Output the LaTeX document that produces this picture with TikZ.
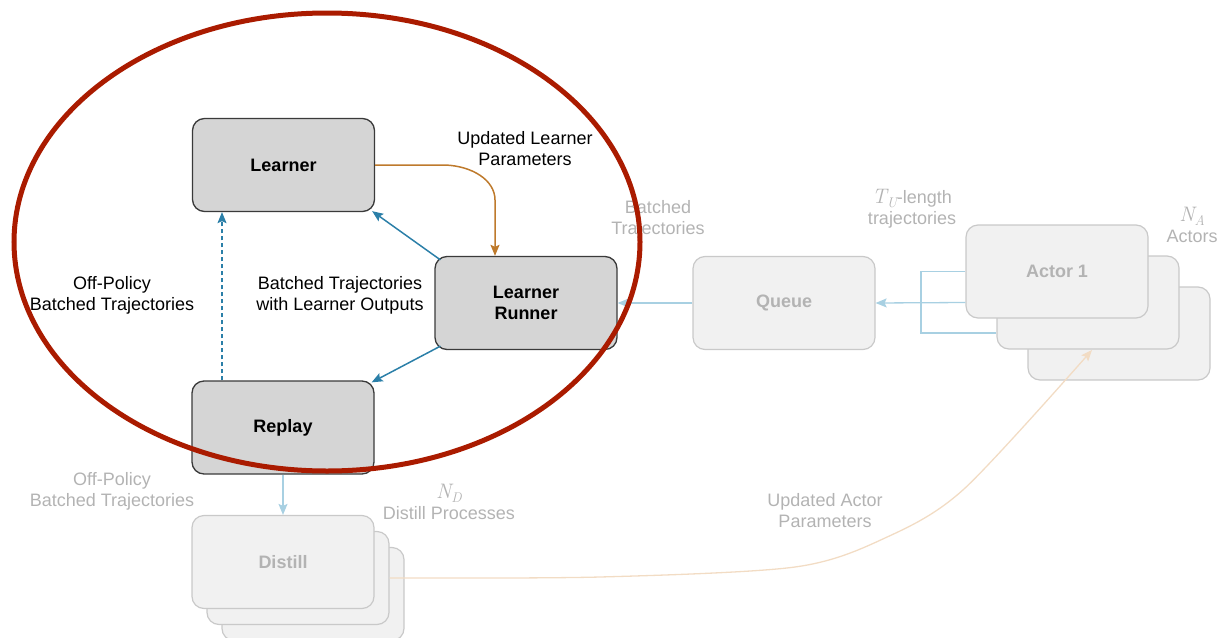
\documentclass[tikz,border=0pt]{standalone}
\usepackage{fontspec}
\setmainfont{Liberation Sans}
\newfontfamily\lmrom{Latin Modern Roman}
\newcommand{\mvar}[2]{{\fontsize{21}{21}\selectfont\lmrom\itshape #1}\raisebox{-4pt}{\fontsize{14}{14}\selectfont\lmrom\itshape #2}}
\usetikzlibrary{arrows.meta,calc}
\definecolor{boxfill}{HTML}{D5D5D5}
\definecolor{boxline}{HTML}{3A3A3A}
\definecolor{ffill}{HTML}{F1F1F1}
\definecolor{fline}{HTML}{C9C9C9}
\definecolor{ftext}{HTML}{B3B3B3}
\definecolor{blueA}{HTML}{2B7FA8}
\definecolor{blueL}{HTML}{A8D0E2}
\definecolor{orangeA}{HTML}{BE7A2C}
\definecolor{orangeL}{HTML}{F2DCC4}
\definecolor{redE}{HTML}{AA1B00}
\tikzset{
  mainbox/.style={draw=boxline, fill=boxfill, line width=1.3pt, rounded corners=12pt,
    minimum width=182pt, minimum height=93pt, inner sep=0pt, align=center,
    font=\fontsize{18}{21}\selectfont\bfseries},
  fadebox/.style={draw=fline, fill=ffill, line width=1.2pt, rounded corners=12pt,
    minimum width=182pt, minimum height=93pt, inner sep=0pt, align=center,
    text=ftext, font=\fontsize{18}{21}\selectfont\bfseries},
  lbl/.style={align=center, inner sep=0pt, font=\fontsize{18}{21}\selectfont},
  flbl/.style={lbl, text=ftext},
  tip/.style={-{Stealth[length=11pt,width=9pt,inset=2pt]}},
  bluearrow/.style={tip, draw=blueA, line width=1.5pt},
  lightarrow/.style={tip, draw=blueL, line width=1.3pt},
  lightline/.style={draw=blueL, line width=1.3pt},
  orangearrow/.style={tip, draw=orangeA, line width=1.5pt},
  fadeorange/.style={tip, draw=orangeL, line width=1.3pt},
}
\begin{document}
\begin{tikzpicture}[x=1pt,y=-1pt]
\useasboundingbox (0,0) rectangle (1220,637);
% main boxes
\node[mainbox] (learner) at (283.5,165) {Learner};
\node[mainbox] (runner) at (526,303) {Learner\\Runner};
\node[mainbox] (replay) at (283,427.5) {Replay};
% faded boxes
\node[fadebox] (queue) at (784,303) {Queue};
\node[fadebox] (actor3) at (1119,333.5) {};
\node[fadebox] (actor2) at (1088,302.5) {};
\node[fadebox] (actor1) at (1057,271.5) {Actor 1};
\node[fadebox] (distill3) at (313,594) {};
\node[fadebox] (distill2) at (298,578) {};
\node[fadebox] (distill1) at (283,562) {Distill};
% labels
\node[lbl] (updl) at (525,149) {Updated Learner\\Parameters};
\node[lbl] (btlo) at (340,295.5) {Batched Trajectories\\with Learner Outputs};
\node[lbl] (opbt) at (112,295.5) {Off-Policy\\Batched Trajectories};
\node[flbl] (btq) at (658,219) {Batched\\Trajectories};
\node[flbl] (tul) at (912,209) {\mvar{T}{U}-length\\trajectories};
\node[flbl] (nal) at (1192,225) {\mvar{N}{A}\\Actors};
\node[flbl] (opbt2) at (112,491) {Off-Policy\\Batched Trajectories};
\node[flbl] (ndl) at (449,502) {\mvar{N}{D}\\Distill Processes};
\node[flbl] (ual) at (825,511) {Updated Actor\\Parameters};
% connectors
\draw[bluearrow] ($(runner.north west)+(6,4)$) -- ($(learner.south east)+(-3,-1)$);
\draw[bluearrow] ($(runner.south west)+(6,-4)$) -- ($(replay.north east)+(-3,2)$);
\draw[orangearrow] (learner.east) -- (445,165) .. controls (472,166) and (495,180) .. (495,200) -- ($(runner.north)+(-31,0)$);
\draw[tip, draw=blueA, line width=1.3pt, dash pattern=on 4pt off 3pt] ($(replay.north)+(-61,0)$) -- ($(learner.south)+(-61.5,0)$);
\draw[lightarrow] (queue.west) -- (runner.east);
\draw[lightarrow] ($(actor1.west)+(0,31)$) -- (queue.east);
\coordinate (bk) at (921,333);
\draw[lightline] (actor1.west) -| (bk) -- (bk -| actor2.west);
\draw[lightarrow] (replay.south) -- (distill1.north);
\coordinate (ptip) at (1092,350);
\draw[fadeorange] plot[smooth, tension=0.5] coordinates {(distill2.east) (600,577) (795,567) (885,538) (964,489) (ptip)};
% highlight ellipse
\draw[redE, line width=5pt] (327,242) ellipse [x radius=313, y radius=229];
\end{tikzpicture}
\end{document}
